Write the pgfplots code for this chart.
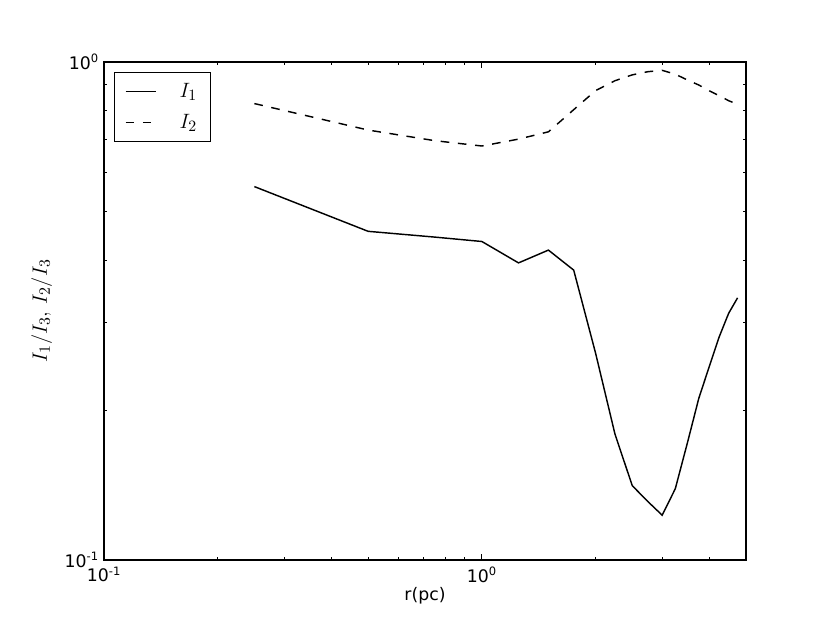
\documentclass[border=0pt]{standalone}
\usepackage{fontspec}
\setmainfont{DejaVu Sans}
\usepackage{pgfplots}
\pgfplotsset{compat=1.18}
\usetikzlibrary{calc}

% ratios
\pgfplotstableread{
r     ione
0.25  0.562
0.50  0.457
0.75  0.445
1.00  0.436
1.25  0.395
1.50  0.419
1.75  0.382
2.00  0.260
2.25  0.179
2.50  0.141
2.75  0.131
3.00  0.123
3.25  0.139
3.50  0.172
3.75  0.211
4.00  0.245
4.25  0.281
4.50  0.313
4.75  0.336
}\tabIone
\pgfplotstableread{
r     itwo
0.25  0.825
0.50  0.730
0.75  0.695
1.00  0.678
1.25  0.700
1.50  0.724
1.75  0.802
2.00  0.876
2.25  0.917
2.50  0.942
2.75  0.956
3.00  0.962
3.25  0.945
3.50  0.920
3.75  0.899
4.00  0.875
4.25  0.855
4.50  0.836
4.75  0.822
}\tabItwo

\begin{document}
\begin{tikzpicture}
\begin{axis}[
    scale only axis,
    width=445.5pt, height=345.6pt,
    xmode=log, ymode=log,
    xmin=0.1, xmax=5, ymin=0.1, ymax=1,
    xtick={0.1,1}, xticklabels={10\textsuperscript{-1},10\textsuperscript{0}},
    ytick={0.1,1}, yticklabels={10\textsuperscript{-1},10\textsuperscript{0}},
    minor xtick={0.2,0.3,0.4,0.5,0.6,0.7,0.8,0.9,2,3,4},
    minor ytick={0.2,0.3,0.4,0.5,0.6,0.7,0.8,0.9},
    tick align=inside,
    major tick length=4pt, minor tick length=2pt,
    every tick/.style={black, line width=0.6pt},
    axis line style={line width=1pt},
    tick label style={font=\fontsize{12}{14}\selectfont},
    xticklabel style={yshift=-1.5pt},
    label style={font=\fontsize{12}{14}\selectfont},
    xlabel={r(pc)},
    ylabel={$I_1/I_3,\, I_2/I_3$},
    xlabel style={yshift=3pt},
    ylabel style={font=\fontsize{15}{18}\selectfont, yshift=2pt},
    legend style={at={(0,1)}, anchor=north west, xshift=7pt, yshift=-7pt,
        draw=black, line width=0.8pt, font=\fontsize{15}{18}\selectfont,
        row sep=6pt, column sep=14pt, inner xsep=7pt, inner ysep=5.5pt,
        cells={anchor=west}},
    legend image code/.code={\draw[#1] (0pt,0pt) -- (21pt,0pt);},
]
\addplot[black, line width=1pt] table[x=r, y=ione] {\tabIone};
\addlegendentry{$I_1$}
\addplot[black, line width=1pt, dash pattern=on 6pt off 6pt] table[x=r, y=itwo] {\tabItwo};
\addlegendentry{$I_2$}
\coordinate (ll) at (rel axis cs:0,0);
\coordinate (ur) at (rel axis cs:1,1);
\end{axis}
\pgfresetboundingbox
\path[use as bounding box] ($(ll)+(-72.2pt,-43.7pt)$) rectangle ($(ur)+(58.3pt,43.0pt)$);
\end{tikzpicture}
\end{document}
